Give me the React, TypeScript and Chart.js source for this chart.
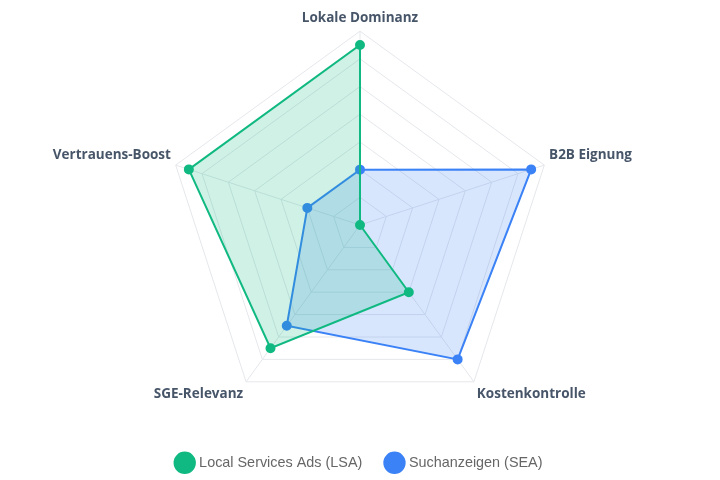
import React, { useEffect, useRef } from "react";
import { Chart, registerables } from "chart.js";

Chart.register(...registerables);

const categories = ["Lokale Dominanz", "B2B Eignung", "Kostenkontrolle", "SGE-Relevanz", "Vertrauens-Boost"];
const lsaValues = [6.5, 0, 3, 5.5, 6.5];
const seaValues = [2, 6.5, 6, 4.5, 2];
const seriesNames = ["Local Services Ads (LSA)", "Suchanzeigen (SEA)"];

export default function App() {
  const ref = useRef<HTMLCanvasElement | null>(null);
  useEffect(() => {
    document.body.style.margin = "0";
    if (!ref.current) return;
    const chart = new Chart(ref.current, {
      type: "radar",
      data: {
        labels: categories,
        datasets: [
          {
            label: seriesNames[0],
            data: lsaValues,
            borderColor: "#10b981",
            backgroundColor: "rgba(16,185,129,0.2)",
            pointBackgroundColor: "#10b981",
            pointBorderColor: "#10b981",
            borderWidth: 2,
            pointRadius: 4,
            fill: true,
          },
          {
            label: seriesNames[1],
            data: seaValues,
            borderColor: "#3b82f6",
            backgroundColor: "rgba(59,130,246,0.2)",
            pointBackgroundColor: "#3b82f6",
            pointBorderColor: "#3b82f6",
            borderWidth: 2,
            pointRadius: 4,
            fill: true,
          },
        ],
      },
      options: {
        animation: false,
        responsive: true,
        maintainAspectRatio: false,
        plugins: {
          legend: {
            position: "bottom",
            labels: {
              usePointStyle: true,
              pointStyle: "circle",
              padding: 25,
              font: { size: 14.4 },
              color: "#666",
            },
          },
          tooltip: { enabled: false },
        },
        scales: {
          r: {
            min: 0,
            max: 7,
            ticks: { display: false, stepSize: 1 },
            grid: { color: "#e5e7eb" },
            angleLines: { color: "#e5e7eb" },
            pointLabels: {
              font: { size: 13.5, weight: "bold", family: "'Open Sans', sans-serif" },
              color: "#475569",
            },
          },
        },
      },
    });
    return () => chart.destroy();
  }, []);
  return (
    <div style={{ width: 720, height: 480, position: "relative" }}>
      <canvas ref={ref} />
    </div>
  );
}
